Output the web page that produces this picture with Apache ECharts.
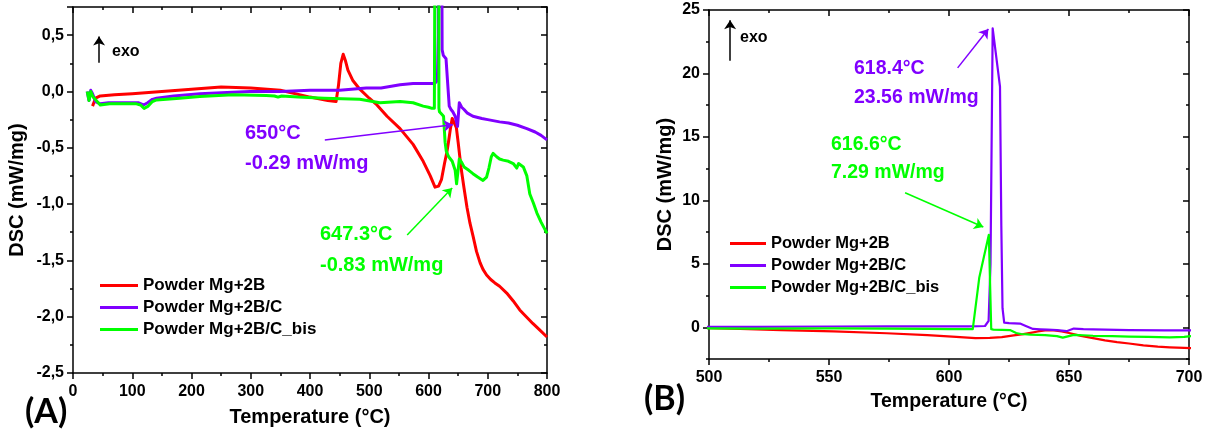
<!DOCTYPE html>
<html>
<head>
<meta charset="utf-8">
<script src="https://cdn.jsdelivr.net/npm/echarts@6/dist/echarts.min.js"></script>
<style>
html, body { margin: 0; padding: 0; background: #fff; }
#chart { width: 1208px; height: 434px; }
</style>
</head>
<body>
<div id="chart"></div>
<script>
// series names
var nameRed = 'Powder Mg+2B';
var namePurple = 'Powder Mg+2B/C';
var nameGreen = 'Powder Mg+2B/C_bis';

// Powder Mg+2B
var redT = [33, 38, 46, 70, 100, 150, 200, 250, 300, 350,
	400, 430, 444, 448, 452, 456, 460, 464, 472, 484,
	500, 513, 530, 552, 574, 591, 603, 611, 617, 622,
	627, 631, 634, 637, 640, 643, 647, 650, 655, 660,
	665, 670, 675, 681, 687, 692, 698, 705, 712,
	720, 732, 743, 754, 765, 776, 788, 800];
var redV = [-0.13, -0.06, -0.04, -0.03, -0.02, 0.0, 0.02, 0.04, 0.03, 0.01,
	-0.05, -0.08, -0.09, 0.05, 0.25, 0.33, 0.27, 0.19, 0.1, 0.02,
	-0.06, -0.12, -0.22, -0.33, -0.47, -0.62, -0.75, -0.85, -0.84, -0.78,
	-0.64, -0.54, -0.44, -0.33, -0.24, -0.23, -0.32, -0.45, -0.68, -0.86,
	-1.03, -1.17, -1.28, -1.42, -1.52, -1.58, -1.63, -1.67, -1.7,
	-1.73, -1.79, -1.86, -1.94, -2.0, -2.06, -2.12, -2.18];

// Powder Mg+2B/C
var purpleT = [24, 27, 30, 33, 38, 46, 60, 80, 100, 110,
	119, 126, 134, 141, 170, 214, 260, 299, 350, 400,
	450, 495, 520, 552, 574, 600, 608, 612, 615, 616.5,
	617.3, 618.2, 621.25, 621.8, 622.3, 623, 625, 629.6, 632, 635,
	638, 641, 645, 649, 652, 656, 660, 665, 675, 690,
	700, 720, 735, 750, 766, 780, 790, 800];
var purpleV = [0, -0.08, 0.01, -0.02, -0.09, -0.11, -0.1, -0.1, -0.1, -0.1,
	-0.12, -0.1, -0.07, -0.06, -0.04, -0.02, -0.01, 0, 0, 0.01,
	0.01, 0.03, 0.03, 0.06, 0.07, 0.07, 0.07, 0.08, 0.1, 0.5,
	5, 23.56, 18.96, 8, 1.5, 0.37, 0.32, 0.29, 0.1, -0.13,
	-0.16, -0.18, -0.22, -0.31, -0.1, -0.14, -0.16, -0.19, -0.22, -0.24,
	-0.25, -0.27, -0.28, -0.3, -0.33, -0.36, -0.39, -0.43];

// Powder Mg+2B/C_bis
var greenT = [24, 27, 30, 34, 46, 62, 80, 107, 114, 120,
	127, 134, 141, 180, 214, 270, 326, 340, 346, 352,
	380, 424, 484, 518, 552, 574, 591, 600, 606, 609.9,
	612.6, 616.6, 617.6, 618.5, 622, 625.4, 628, 630, 634, 640,
	645, 647.4, 649.5, 652, 656, 660, 668, 675, 683, 692,
	698, 702, 706, 709, 715, 720, 726, 735, 743, 746,
	749, 752, 754, 760, 766, 771, 777, 783, 790, 800];
var greenV = [0, -0.08, 0.0, -0.05, -0.12, -0.11, -0.11, -0.11, -0.12, -0.15,
	-0.13, -0.09, -0.075, -0.06, -0.045, -0.03, -0.035, -0.04, -0.05, -0.04,
	-0.05, -0.06, -0.07, -0.1, -0.09, -0.1, -0.13, -0.14, -0.15, -0.15,
	3.9, 7.29, -0.15, -0.18, -0.2, -0.22, -0.45, -0.53, -0.58, -0.62,
	-0.7, -0.82, -0.72, -0.6, -0.63, -0.67, -0.7, -0.73, -0.76, -0.79,
	-0.76, -0.68, -0.58, -0.55, -0.58, -0.6, -0.61, -0.62, -0.64, -0.66,
	-0.68, -0.64, -0.63, -0.67, -0.75, -0.91, -0.99, -1.08, -1.16, -1.26];

// tick label values of panel (B) y axis
var yLabelsB = [0, 5, 10, 15, 20, 25];

// annotation arrows (data coordinates: [temperature, DSC])
var arrowA650 = [[425, -0.43], [641, -0.296]];
var arrowA647 = [[564, -1.275], [640, -0.857]];
var exoA = [[44, 0.255], [44, 0.487]];
var arrowB618 = [[603.6, 20.44], [616.4, 23.5]];
var arrowB616 = [[581.7, 10.6], [614.3, 7.9]];
var exoB = [[508.8, 21.0], [508.8, 24.2]];

var RED = '#ff0000', PURPLE = '#8000ff', GREEN = '#00ff00';
var FONT = '"Liberation Sans", Arial, sans-serif';
var AX = {color: '#000', width: 1.5};

function pairs(xs, ys) {
	return xs.map(function (t, i) { return [t, ys[i]]; });
}

function makeAxis(grid, pos, min, max, step) {
	var inside = pos === 'top' || pos === 'right';
	return {
		type: 'value', gridIndex: grid, position: pos,
		min: min, max: max, interval: step,
		axisLine: {show: true, onZero: false, lineStyle: AX},
		axisTick: {show: true, inside: inside, length: 6, lineStyle: AX},
		minorTick: {show: true, splitNumber: 2, length: 3, lineStyle: AX},
		splitLine: {show: false},
		minorSplitLine: {show: false},
		axisLabel: {show: false}
	};
}

function labelStyle(size, margin, fmt) {
	var s = {show: true, color: '#000', fontFamily: FONT, fontWeight: 'bold', fontSize: size, margin: margin};
	if (fmt) s.formatter = fmt;
	return s;
}

function nameStyle(size) {
	return {color: '#000', fontFamily: FONT, fontWeight: 'bold', fontSize: size};
}

function arrow(pts, color, size) {
	return [{coord: pts[0], lineStyle: {color: color}, symbolSize: size}, {coord: pts[1]}];
}

// panel (A) axes
var xA = makeAxis(0, 'bottom', 0, 800, 100);
xA.axisLabel = labelStyle(16, 11);
xA.name = 'Temperature (°C)';
xA.nameLocation = 'middle';
xA.nameGap = 34;
xA.nameTextStyle = nameStyle(20);
var xAtop = makeAxis(0, 'top', 0, 800, 100);

var yA = makeAxis(0, 'left', -2.5, 0.75, 0.5);
yA.axisLabel = labelStyle(16, 9, function (v) {
	if (Math.abs(v * 2 - Math.round(v * 2)) > 1e-6) return '';
	return v.toFixed(1).replace('.', ',');
});
yA.name = 'DSC (mW/mg)';
yA.nameLocation = 'middle';
yA.nameGap = 46;
yA.nameTextStyle = nameStyle(20);
var yAright = makeAxis(0, 'right', -2.5, 0.75, 0.5);

// panel (B) axes
var xB = makeAxis(1, 'bottom', 500, 700, 50);
xB.axisLabel = labelStyle(16, 11);
xB.name = 'Temperature (°C)';
xB.nameLocation = 'middle';
xB.nameGap = 33;
xB.nameTextStyle = nameStyle(19.5);
var xBtop = makeAxis(1, 'top', 500, 700, 50);

var yB = makeAxis(1, 'left', -2.5, 25, 2.5);
yB.minorTick.show = false;
yB.axisTick.length = 3;
yB.axisLabel = labelStyle(16, 9);
yB.axisLabel.customValues = yLabelsB;
yB.name = 'DSC (mW/mg)';
yB.nameLocation = 'middle';
yB.nameGap = 34;
yB.nameTextStyle = nameStyle(20);
var yBright = makeAxis(1, 'right', -2.5, 25, 2.5);
yBright.minorTick.show = false;
yBright.axisTick.length = 3;
// longer ticks on the labelled values
var yBmajor = makeAxis(1, 'left', -2.5, 25, 2.5);
yBmajor.axisLine.show = false;
yBmajor.minorTick.show = false;
yBmajor.axisTick.customValues = yLabelsB;
var yBmajorRight = makeAxis(1, 'right', -2.5, 25, 2.5);
yBmajorRight.axisLine.show = false;
yBmajorRight.minorTick.show = false;
yBmajorRight.axisTick.customValues = yLabelsB;

function line(name, color, xs, ys, panel, width, marks) {
	var s = {
		type: 'line', name: name,
		xAxisIndex: panel === 0 ? 0 : 2,
		yAxisIndex: panel === 0 ? 0 : 2,
		data: pairs(xs, ys),
		showSymbol: false, symbol: 'none', clip: true,
		lineStyle: {color: color, width: width, join: 'round'},
		itemStyle: {color: color},
		emphasis: {disabled: true}
	};
	if (marks) {
		s.markLine = {
			silent: true, symbol: ['none', 'arrow'], symbolSize: 9,
			label: {show: false},
			lineStyle: {width: 1.5, type: 'solid'},
			data: marks
		};
	}
	return s;
}

function legend(left, top, w, size) {
	return {
		left: left, top: top, orient: 'vertical', padding: 0,
		icon: 'rect', itemWidth: w, itemHeight: 3, itemGap: 5,
		data: [nameRed, namePurple, nameGreen],
		textStyle: {color: '#000', fontFamily: FONT, fontWeight: 'bold', fontSize: size, lineHeight: 14},
		selectedMode: false
	};
}

function txt(x, y, text, color, size, font) {
	return {
		type: 'text', left: x, top: y - size * 0.6,
		style: {text: text, fill: color, font: 'bold ' + size + 'px ' + (font || FONT)}
	};
}

var chart = echarts.init(document.getElementById('chart'));

chart.setOption({
	animation: false,
	backgroundColor: '#fff',
	grid: [
		{left: 73, top: 7, width: 474, height: 366, outerBoundsMode: 'none'},
		{left: 709, top: 10, width: 480, height: 349, outerBoundsMode: 'none'}
	],
	xAxis: [xA, xAtop, xB, xBtop],
	yAxis: [yA, yAright, yB, yBright, yBmajor, yBmajorRight],
	legend: [legend(100, 277, 38, 17), legend(730, 235, 36, 16.5)],
	series: [
		line(nameRed, RED, redT, redV, 0, 3, [arrow(exoA, '#000', 7)]),
		line(namePurple, PURPLE, purpleT, purpleV, 0, 3, [arrow(arrowA650, PURPLE, 9)]),
		line(nameGreen, GREEN, greenT, greenV, 0, 3, [arrow(arrowA647, GREEN, 9)]),
		line(nameRed, RED, redT, redV, 1, 2.2, [arrow(exoB, '#000', 7)]),
		line(namePurple, PURPLE, purpleT, purpleV, 1, 2.2, [arrow(arrowB618, PURPLE, 9)]),
		line(nameGreen, GREEN, greenT, greenV, 1, 2.2, [arrow(arrowB616, GREEN, 9)])
	],
	graphic: [
		txt(112, 53, 'exo', '#000', 16),
		txt(245, 135, '650°C', PURPLE, 20),
		txt(245, 165, '-0.29 mW/mg', PURPLE, 20),
		txt(320, 236, '647.3°C', GREEN, 20),
		txt(320, 267, '-0.83 mW/mg', GREEN, 20),
		txt(25, 415, '(A)', '#000', 34, 'Lato, sans-serif'),
		txt(740, 39, 'exo', '#000', 16),
		txt(854, 70, '618.4°C', PURPLE, 19.5),
		txt(854, 99, '23.56 mW/mg', PURPLE, 19.5),
		txt(831, 146, '616.6°C', GREEN, 19.5),
		txt(831, 174, '7.29 mW/mg', GREEN, 19.5),
		txt(644, 402, '(B)', '#000', 34, 'Lato, sans-serif')
	]
});
</script>
</body>
</html>
